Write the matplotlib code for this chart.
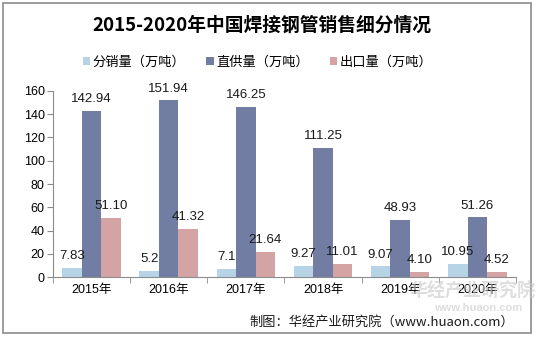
import matplotlib
matplotlib.use("Agg")
import matplotlib.pyplot as plt
import numpy as np
from matplotlib.patches import Rectangle

plt.rcParams['font.family'] = ['Liberation Sans', 'Noto Sans CJK SC', 'DejaVu Sans']

years = ['2015年', '2016年', '2017年', '2018年', '2019年', '2020年']
series_names = ['分销量（万吨）', '直供量（万吨）', '出口量（万吨）']
fenxiao = [7.83, 5.2, 7.1, 9.27, 9.07, 10.95]
zhigong = [142.94, 151.94, 146.25, 111.25, 48.93, 51.26]
chukou = [51.10, 41.32, 21.64, 11.01, 4.10, 4.52]
fenxiao_labels = ['7.83', '5.2', '7.1', '9.27', '9.07', '10.95']
zhigong_labels = ['142.94', '151.94', '146.25', '111.25', '48.93', '51.26']
chukou_labels = ['51.10', '41.32', '21.64', '11.01', '4.10', '4.52']
yticks = [0, 20, 40, 60, 80, 100, 120, 140, 160]

colors = ['#B7D3E6', '#717DA2', '#D4A4A4']

fig = plt.figure(figsize=(5.37, 3.37), dpi=100)
fig.patches.append(Rectangle((0.006, 0.012), 0.982, 0.979, transform=fig.transFigure,
                             fill=False, edgecolor='#8C8C8C', linewidth=1.2))
ax = fig.add_axes([0.0987, 0.178, 0.862, 0.552])

x = np.arange(len(years))
w = 0.253
data = [fenxiao, zhigong, chukou]
labels = [fenxiao_labels, zhigong_labels, chukou_labels]
for i, (vals, labs, c, name) in enumerate(zip(data, labels, colors, series_names)):
    pos = x + (i - 1) * w
    ax.bar(pos, vals, width=w, color=c, label=name, zorder=2)
    for p, v, t in zip(pos, vals, labs):
        ax.text(p, v + 5, t, ha='center', va='bottom', fontsize=9.5, color='#1a1a1a')

ax.set_xlim(-0.5, len(years) - 0.5)
ax.set_ylim(0, 160)
ax.set_yticks(yticks)
ax.set_yticklabels([str(t) for t in yticks], fontsize=9)
ax.set_xticks(x)
ax.set_xticklabels(years, fontsize=9)
ax.set_xticks(np.arange(-0.5, len(years), 1), minor=True)
ax.tick_params(axis='x', which='major', length=0, pad=5)
ax.tick_params(axis='x', which='minor', length=4, color='#8C8C8C')
ax.tick_params(axis='y', length=4, color='#8C8C8C', pad=2)
for s in ['top', 'right']:
    ax.spines[s].set_visible(False)
for s in ['left', 'bottom']:
    ax.spines[s].set_color('#8C8C8C')

fig.text(0.487, 0.925, '2015-2020年中国焊接钢管销售细分情况', ha='center', va='center',
         fontsize=13.5, fontweight='bold', family=['Noto Sans CJK SC', 'DejaVu Sans'])

leg = ax.legend(loc='center', bbox_to_anchor=(0.48, 0.815), bbox_transform=fig.transFigure,
                ncol=3, frameon=False, handlelength=0.55, handleheight=0.55,
                handletextpad=0.2, columnspacing=1.6,
                prop={'family': ['Noto Sans CJK SC', 'DejaVu Sans'], 'size': 9.5})

# watermark
fig.text(0.88, 0.135, '华经产业研究院', ha='center', va='center', fontsize=13,
         color='#C8C8C8', alpha=0.6, family=['Noto Sans CJK SC'], fontweight='bold')
fig.text(0.89, 0.085, 'www.huaon.com', ha='center', va='center', fontsize=8,
         color='#C8C8C8', alpha=0.6, fontweight='bold')

fig.text(0.958, 0.045, '制图：华经产业研究院（www.huaon.com）', ha='right', va='center',
         fontsize=9.5, color='#1a1a1a', family=['Noto Sans CJK SC', 'DejaVu Sans'])

fig.savefig('out.png', dpi=100)
